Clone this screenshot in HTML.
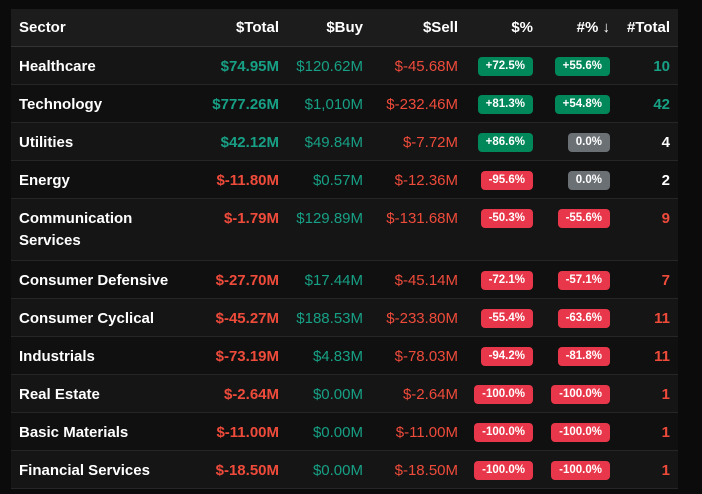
<!DOCTYPE html>
<html><head><meta charset="utf-8"><style>
html,body{margin:0;padding:0;background:#0b0b0b;width:702px;height:494px;overflow:hidden}
table{position:absolute;left:11px;top:9px;border-collapse:collapse;table-layout:fixed;width:667px;font-family:"Liberation Sans",sans-serif;font-size:15px;color:#fff}
th,td{padding:0 8px;text-align:right;vertical-align:top;white-space:nowrap}
th{height:37px;line-height:37px;background:#1c1c1c;font-weight:bold;border-bottom:1px solid #333}
td{height:37px;line-height:22px;padding-top:9px;padding-bottom:6px;box-sizing:border-box;border-bottom:1px solid #262626}
tr.o td{background:#151515}
tr.e td{background:#101010}
th:first-child,td:first-child{text-align:left;font-weight:bold;white-space:normal}
.g{color:#17a085}.r{color:#ee4b3b}.b{font-weight:bold}
.bd{display:inline-block;height:19px;line-height:19px;padding:0 8px;border-radius:4px;font-size:11.5px;font-weight:bold;color:#fff;vertical-align:middle;margin-top:-2px}
.bg{background:#00875a}.br{background:#e8374a}.bz{background:#6b7075}
</style></head><body>
<table>
<colgroup><col style="width:189px"><col style="width:87px"><col style="width:84px"><col style="width:95px"><col style="width:75px"><col style="width:77px"><col style="width:60px"></colgroup>
<tr><th>Sector</th><th>$Total</th><th>$Buy</th><th>$Sell</th><th>$%</th><th>#% ↓</th><th>#Total</th></tr>
<tr class="o"><td>Healthcare</td><td class="g b">$74.95M</td><td class="g">$120.62M</td><td class="r">$-45.68M</td><td><span class="bd bg">+72.5%</span></td><td><span class="bd bg">+55.6%</span></td><td class="g b">10</td></tr>
<tr class="e"><td>Technology</td><td class="g b">$777.26M</td><td class="g">$1,010M</td><td class="r">$-232.46M</td><td><span class="bd bg">+81.3%</span></td><td><span class="bd bg">+54.8%</span></td><td class="g b">42</td></tr>
<tr class="o"><td>Utilities</td><td class="g b">$42.12M</td><td class="g">$49.84M</td><td class="r">$-7.72M</td><td><span class="bd bg">+86.6%</span></td><td><span class="bd bz">0.0%</span></td><td class="b">4</td></tr>
<tr class="e"><td>Energy</td><td class="r b">$-11.80M</td><td class="g">$0.57M</td><td class="r">$-12.36M</td><td><span class="bd br">-95.6%</span></td><td><span class="bd bz">0.0%</span></td><td class="b">2</td></tr>
<tr class="o"><td style="height:62px">Communication Services</td><td class="r b">$-1.79M</td><td class="g">$129.89M</td><td class="r">$-131.68M</td><td><span class="bd br">-50.3%</span></td><td><span class="bd br">-55.6%</span></td><td class="r b">9</td></tr>
<tr class="e"><td>Consumer Defensive</td><td class="r b">$-27.70M</td><td class="g">$17.44M</td><td class="r">$-45.14M</td><td><span class="bd br">-72.1%</span></td><td><span class="bd br">-57.1%</span></td><td class="r b">7</td></tr>
<tr class="o"><td>Consumer Cyclical</td><td class="r b">$-45.27M</td><td class="g">$188.53M</td><td class="r">$-233.80M</td><td><span class="bd br">-55.4%</span></td><td><span class="bd br">-63.6%</span></td><td class="r b">11</td></tr>
<tr class="e"><td>Industrials</td><td class="r b">$-73.19M</td><td class="g">$4.83M</td><td class="r">$-78.03M</td><td><span class="bd br">-94.2%</span></td><td><span class="bd br">-81.8%</span></td><td class="r b">11</td></tr>
<tr class="o"><td>Real Estate</td><td class="r b">$-2.64M</td><td class="g">$0.00M</td><td class="r">$-2.64M</td><td><span class="bd br">-100.0%</span></td><td><span class="bd br">-100.0%</span></td><td class="r b">1</td></tr>
<tr class="e"><td>Basic Materials</td><td class="r b">$-11.00M</td><td class="g">$0.00M</td><td class="r">$-11.00M</td><td><span class="bd br">-100.0%</span></td><td><span class="bd br">-100.0%</span></td><td class="r b">1</td></tr>
<tr class="o"><td>Financial Services</td><td class="r b">$-18.50M</td><td class="g">$0.00M</td><td class="r">$-18.50M</td><td><span class="bd br">-100.0%</span></td><td><span class="bd br">-100.0%</span></td><td class="r b">1</td></tr>
</table>
</body></html>
